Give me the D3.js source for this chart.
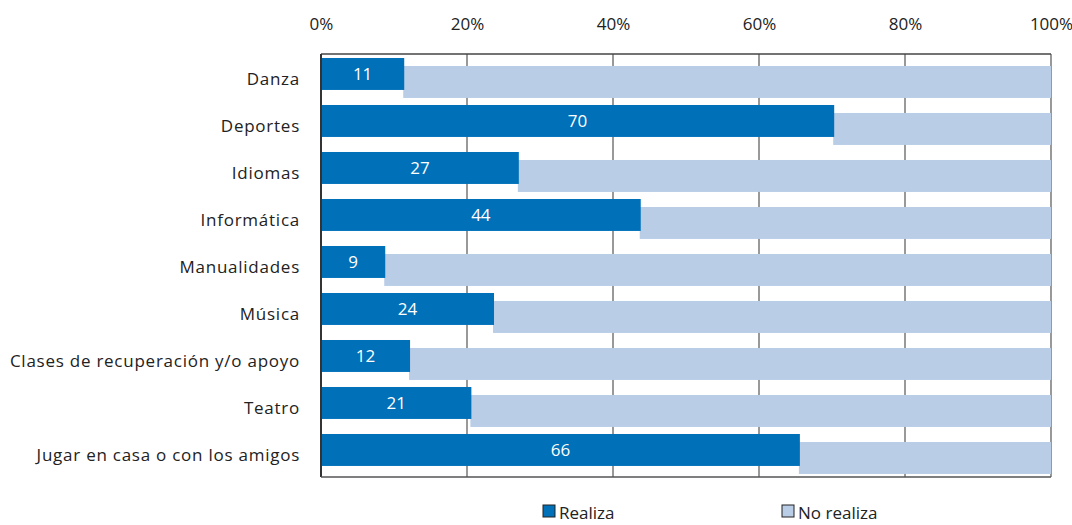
<!DOCTYPE html>
<html><head><meta charset="utf-8">
<script src="https://cdn.jsdelivr.net/npm/d3@7/dist/d3.min.js"></script>
<style>body{margin:0;background:#fff;} svg{display:block;}</style>
</head><body>
<svg id="chart" width="1072" height="525"></svg>
<script>
const categories = ["Danza","Deportes","Idiomas","Informática","Manualidades","Música","Clases de recuperación y/o apoyo","Teatro","Jugar en casa o con los amigos"];
const realiza = [11.4, 70.3, 27.1, 43.8, 8.8, 23.7, 12.2, 20.6, 65.6];
const tickValues = [0, 20, 40, 60, 80, 100];
const seriesNames = ["Realiza", "No realiza"];
const colors = ["#0070B8", "#B9CDE7"];
const font = "'Open Sans', 'Lato', sans-serif";

(function () {
const svg = d3.select("#chart");
const pL = 321, pR = 1051, pT = 54, pB = 477;
const x = d3.scaleLinear().domain([0, 100]).range([pL, pR]);
const y = d3.scaleBand().domain(categories).range([pT, pB]).padding(0);
const bw = y.bandwidth();
const barH = bw * 0.68, off1 = bw * 0.085, off2 = bw * 0.255;

// gridlines
svg.append("g").selectAll("line").data(tickValues.slice(1)).join("line")
  .attr("x1", d => x(d)).attr("x2", d => x(d)).attr("y1", pT).attr("y2", pB)
  .attr("stroke", "#555").attr("stroke-width", 1.2);
svg.append("line").attr("x1", pL).attr("x2", pR).attr("y1", pT).attr("y2", pT)
  .attr("stroke", "#444").attr("stroke-width", 1.5);

// light bars
svg.append("g").selectAll("rect").data(categories).join("rect")
  .attr("x", (d, i) => x(realiza[i]) - 1).attr("width", (d, i) => x(100) - x(realiza[i]) + 1)
  .attr("y", d => y(d) + off2).attr("height", barH).attr("fill", colors[1]);
// dark bars
svg.append("g").selectAll("rect").data(categories).join("rect")
  .attr("x", x(0)).attr("width", (d, i) => x(realiza[i]) - x(0))
  .attr("y", d => y(d) + off1).attr("height", barH).attr("fill", colors[0]);
// value labels
svg.append("g").selectAll("text").data(categories).join("text")
  .attr("x", (d, i) => (x(0) + x(realiza[i])) / 2).attr("y", d => y(d) + off1 + barH / 2)
  .attr("dy", "0.36em").attr("text-anchor", "middle").attr("fill", "#fff")
  .style("font-family", font).style("font-size", "17px")
  .text((d, i) => Math.round(realiza[i]));

svg.append("line").attr("x1", pL).attr("x2", pL).attr("y1", pT).attr("y2", pB)
  .attr("stroke", "#333").attr("stroke-width", 2);
svg.append("line").attr("x1", pL).attr("x2", pR).attr("y1", pB).attr("y2", pB)
  .attr("stroke", "#555").attr("stroke-width", 1.5);

// top axis labels
const xAxis = d3.axisTop(x).tickValues(tickValues).tickSize(0).tickFormat(d => d + "%");
const gx = svg.append("g").attr("transform", `translate(0,${pT - 21})`).call(xAxis);
gx.select(".domain").remove();
gx.selectAll("text").style("font-family", font).style("font-size", "17px").attr("fill", "#222");

// category labels
const yAxis = d3.axisLeft(y).tickSize(0).tickPadding(0);
const gy = svg.append("g").attr("transform", `translate(300,${bw * 0.05})`).call(yAxis);
gy.select(".domain").remove();
gy.selectAll("text").style("font-family", font).style("font-size", "17px")
  .style("letter-spacing", "0.75px").attr("fill", "#222");

// legend
const legX = [543, 782];
const leg = svg.append("g").selectAll("g").data(seriesNames).join("g")
  .attr("transform", (d, i) => `translate(${legX[i]},505)`);
leg.append("rect").attr("width", 12).attr("height", 12).attr("fill", (d, i) => colors[i])
  .attr("stroke", "#222").attr("stroke-width", 1);
leg.append("text").attr("x", 16).attr("y", 14).text(d => d)
  .style("font-family", font).style("font-size", "17px").attr("fill", "#222");
})();
</script>
</body></html>
